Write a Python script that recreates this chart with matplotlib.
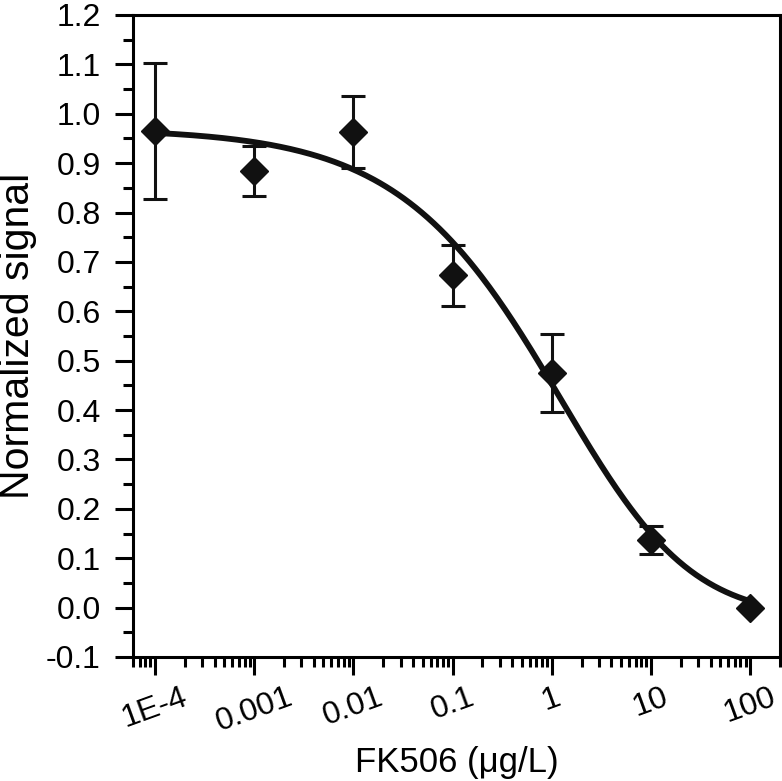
import numpy as np
import matplotlib.pyplot as plt
from matplotlib.ticker import LogLocator, MultipleLocator, FixedLocator, NullFormatter

plt.rcParams['font.family'] = ['Liberation Sans', 'DejaVu Sans']

# measured points
conc = [1e-4, 1e-3, 1e-2, 0.1, 1, 10, 100]
signal = [0.965, 0.884, 0.963, 0.673, 0.475, 0.137, 0.0]
err = [0.138, 0.050, 0.073, 0.062, 0.079, 0.029, 0.0]
xtick_vals = [1e-4, 1e-3, 1e-2, 0.1, 1, 10, 100]
xtick_labels = ['1E-4', '0.001', '0.01', '0.1', '1', '10', '100']

# dose-response fit (5PL): top, bottom, log10 ec50, hill, asymmetry
fit_top = 0.970
fit_bottom = -0.020
fit_logc = 0.70
fit_hill = 0.50
fit_asym = 2.0

fig = plt.figure(figsize=(7.82, 7.81), dpi=100)
ax = fig.add_axes([0.170, 0.1588, 0.8274, 0.822])

xs = np.logspace(-4, 2, 300)
ys = fit_bottom + (fit_top - fit_bottom) / (1 + 10 ** ((np.log10(xs) - fit_logc) * fit_hill)) ** fit_asym
ax.plot(xs, ys, color='#111111', lw=4.2, zorder=3)
ax.errorbar(conc, signal, yerr=err, fmt='D', color='#111111', ms=14,
            elinewidth=2.2, capsize=8.5, capthick=2.2, zorder=4)

ax.set_xscale('log')
ax.set_xlim(6e-5, 200)
ax.set_ylim(-0.1, 1.2)
ax.xaxis.set_major_locator(FixedLocator(xtick_vals))
ax.xaxis.set_minor_locator(LogLocator(base=10, subs=np.arange(2, 10), numticks=20))
ax.xaxis.set_minor_formatter(NullFormatter())
ax.set_xticklabels(xtick_labels, rotation=20, ha='center')
ax.yaxis.set_major_locator(MultipleLocator(0.1))
ax.yaxis.set_minor_locator(MultipleLocator(0.05))
ax.set_yticklabels([f"{v:.1f}" for v in ax.get_yticks()])

for sp in ax.spines.values():
    sp.set_linewidth(2.2)
ax.tick_params(which='major', length=13, width=2.2, labelsize=23, direction='out')
ax.tick_params(axis='y', which='major', pad=10)
ax.tick_params(axis='x', which='major', pad=5)
ax.tick_params(which='minor', length=7, width=2.2, direction='out')
ax.set_xlabel('FK506 (μg/L)', fontsize=25, labelpad=6)
ax.set_ylabel('Normalized signal', fontsize=29.5)
ax.yaxis.set_label_coords(-0.149, 0.5)

fig.savefig('out.png', dpi=100)
